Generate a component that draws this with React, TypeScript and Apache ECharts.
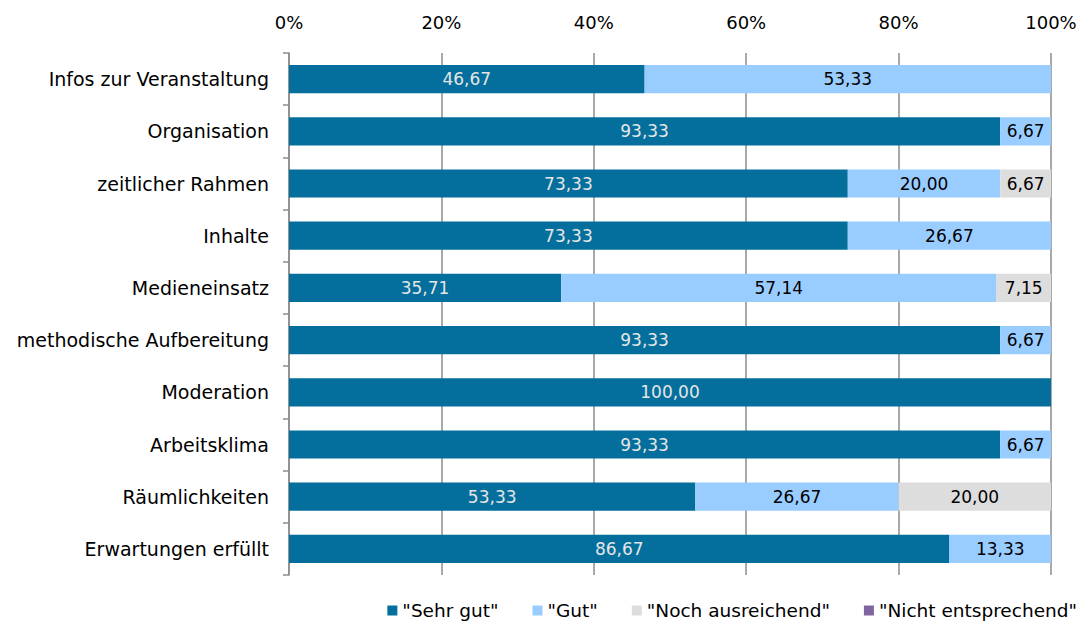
import React, { useEffect, useRef } from "react";
import * as echarts from "echarts";

const categories = [
  "Infos zur Veranstaltung",
  "Organisation",
  "zeitlicher Rahmen",
  "Inhalte",
  "Medieneinsatz",
  "methodische Aufbereitung",
  "Moderation",
  "Arbeitsklima",
  "Räumlichkeiten",
  "Erwartungen erfüllt",
];
const seriesNames = ['"Sehr gut"', '"Gut"', '"Noch ausreichend"', '"Nicht entsprechend"'];
const sehrGut = [46.67, 93.33, 73.33, 73.33, 35.71, 93.33, 100.0, 93.33, 53.33, 86.67];
const gut = [53.33, 6.67, 20.0, 26.67, 57.14, 6.67, 0, 6.67, 26.67, 13.33];
const nochAusreichend = [0, 0, 6.67, 0, 7.15, 0, 0, 0, 20.0, 0];
const nichtEntsprechend = [0, 0, 0, 0, 0, 0, 0, 0, 0, 0];
const xTicks = [0, 20, 40, 60, 80, 100];

const colors = ["#046f9c", "#99ccff", "#dddddd", "#8064a2"];
const labelColors = ["#e6e6e6", "#000000", "#000000", "#000000"];
const FONT = "DejaVu Sans";

export default function App() {
  const ref = useRef<HTMLDivElement>(null);
  useEffect(() => {
    if (!ref.current) return;
    const chart = echarts.init(ref.current, undefined, { renderer: "svg" });
    const datasets = [sehrGut, gut, nochAusreichend, nichtEntsprechend];
    chart.setOption({
      animation: false,
      textStyle: { fontFamily: FONT },
      grid: { left: 289, right: 31, top: 53, bottom: 52, containLabel: false },
      legend: {
        bottom: 2,
        right: 0,
        itemWidth: 10,
        itemHeight: 10,
        itemGap: 34,
        icon: "rect",
        textStyle: { fontFamily: FONT, fontSize: 18.5, color: "#000" },
        data: seriesNames,
      },
      xAxis: {
        type: "value",
        position: "top",
        min: xTicks[0],
        max: xTicks[xTicks.length - 1],
        interval: 20,
        axisLine: { show: false },
        axisTick: { show: false },
        axisLabel: {
          formatter: (v: number) => v + "%",
          fontFamily: FONT,
          fontSize: 18,
          color: "#000",
          margin: 22,
        },
        splitLine: { show: true, lineStyle: { color: "#8c8c8c", width: 1.5 } },
      },
      yAxis: {
        type: "category",
        inverse: true,
        data: categories,
        axisLine: { show: true, lineStyle: { color: "#8c8c8c", width: 1.5 } },
        axisTick: { show: true, length: 6, lineStyle: { color: "#8c8c8c", width: 1.5 } },
        axisLabel: { fontFamily: FONT, fontSize: 19, color: "#000", margin: 20 },
      },
      series: datasets.map((d, i) => ({
        name: seriesNames[i],
        type: "bar",
        stack: "total",
        barCategoryGap: "46%",
        itemStyle: { color: colors[i] },
        label: {
          show: true,
          position: "inside",
          color: labelColors[i],
          fontFamily: FONT,
          fontSize: 17,
          formatter: (p: any) => (p.value > 0 ? p.value.toFixed(2).replace(".", ",") : ""),
        },
        data: d,
      })),
    });
    return () => chart.dispose();
  }, []);
  return <div ref={ref} style={{ width: 1082, height: 627, position: "absolute", left: 0, top: 0 }} />;
}
